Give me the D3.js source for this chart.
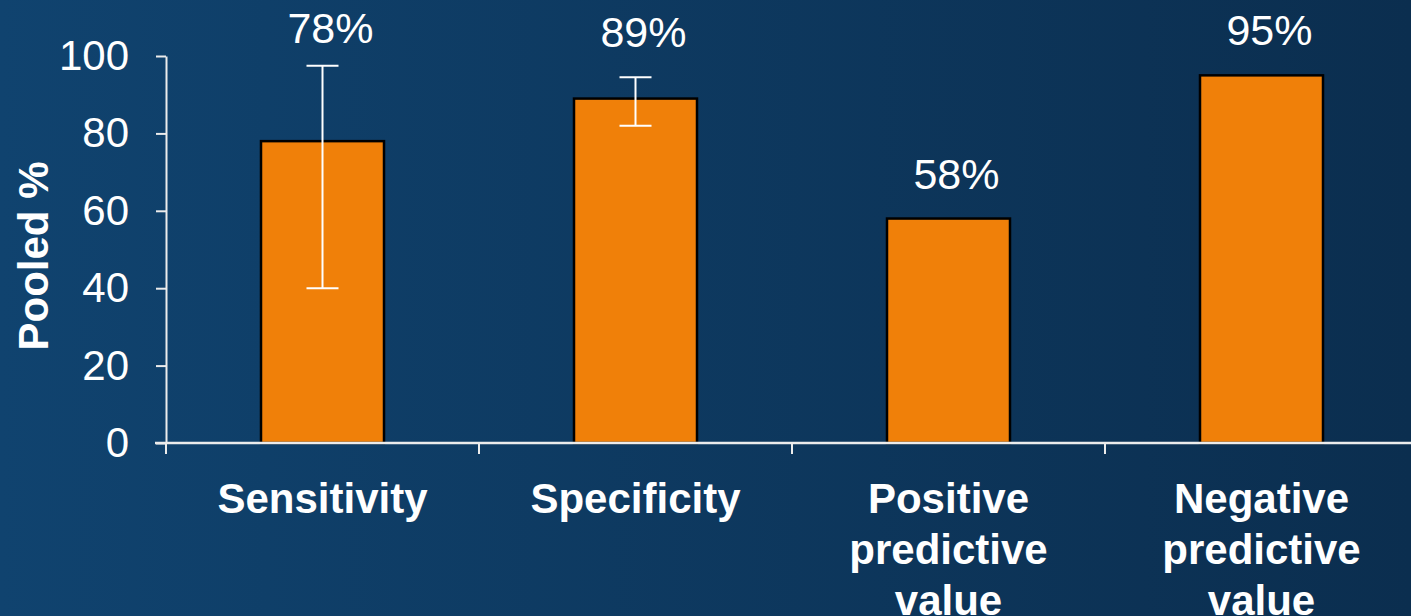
<!DOCTYPE html>
<html>
<head>
<meta charset="utf-8">
<script src="https://cdn.jsdelivr.net/npm/d3@7"></script>
<style>
  html, body { margin: 0; padding: 0; overflow: hidden; }
  svg { display: block; font-family: "Liberation Sans", Arial, sans-serif; }
</style>
</head>
<body>
<svg id="chart" width="1411" height="616"></svg>
<script>
// chart data
const categories = ["Sensitivity", "Specificity", "Positive predictive value", "Negative predictive value"];
const pooled = [78, 89, 58, 95];
const ciLow = [40, 82, null, null];
const ciHigh = [97.5, 94.5, null, null];
const yTicks = [0, 20, 40, 60, 80, 100];

const width = 1411, height = 616;
const svg = d3.select("#chart");

// background gradient
const grad = svg.append("defs").append("linearGradient")
    .attr("id", "bg").attr("x1", "0%").attr("x2", "100%").attr("y1", "0%").attr("y2", "0%");
grad.append("stop").attr("offset", "0%").attr("stop-color", "#10436f");
grad.append("stop").attr("offset", "100%").attr("stop-color", "#0b2e4f");
svg.append("rect").attr("width", width).attr("height", height).attr("fill", "url(#bg)");

const x0 = 166, plotW = 313 * 4;
const x = d3.scaleBand().domain(categories).range([x0, x0 + plotW]).paddingInner(0).paddingOuter(0);
const y = d3.scaleLinear().domain([0, 100]).range([443, 56]);
const barW = 123;

const axisColor = "#ececec";

// y axis
const yAxis = svg.append("g")
    .attr("transform", `translate(${x0},0)`)
    .call(d3.axisLeft(y).tickValues(yTicks).tickSize(10).tickPadding(27).tickSizeOuter(0));
yAxis.select(".domain").attr("stroke", axisColor).attr("stroke-width", 2);
yAxis.selectAll(".tick line").attr("stroke", axisColor).attr("stroke-width", 2);
yAxis.selectAll(".tick text")
    .attr("fill", "#ffffff").attr("font-size", 42)
    .attr("font-family", "Liberation Sans, Arial, sans-serif");

// bars
svg.selectAll("rect.bar")
    .data(categories)
    .enter().append("rect")
    .attr("class", "bar")
    .attr("x", (d) => x(d) + x.bandwidth() / 2 - barW / 2)
    .attr("y", (d, i) => y(pooled[i]))
    .attr("width", barW)
    .attr("height", (d, i) => y(0) - y(pooled[i]))
    .attr("fill", "#f08009")
    .attr("stroke", "#000")
    .attr("stroke-width", 2.5);

// x axis (drawn after bars so line sits on top)
const xAxisLine = svg.append("g");
xAxisLine.append("line")
    .attr("x1", x0 - 11).attr("x2", width)
    .attr("y1", y(0)).attr("y2", y(0))
    .attr("stroke", axisColor).attr("stroke-width", 2.5);
xAxisLine.selectAll("line.xtick")
    .data(categories)
    .enter().append("line")
    .attr("class", "xtick")
    .attr("x1", (d) => x(d)).attr("x2", (d) => x(d))
    .attr("y1", y(0)).attr("y2", y(0) + 11)
    .attr("stroke", axisColor).attr("stroke-width", 2);

// error bars
const capW = 32;
categories.forEach((c, i) => {
  if (ciLow[i] == null) return;
  const cx = x(c) + x.bandwidth() / 2;
  const g = svg.append("g").attr("stroke", "#ffffff").attr("stroke-width", 2);
  g.append("line").attr("x1", cx).attr("x2", cx).attr("y1", y(ciLow[i])).attr("y2", y(ciHigh[i]));
  g.append("line").attr("x1", cx - capW / 2).attr("x2", cx + capW / 2).attr("y1", y(ciLow[i])).attr("y2", y(ciLow[i]));
  g.append("line").attr("x1", cx - capW / 2).attr("x2", cx + capW / 2).attr("y1", y(ciHigh[i])).attr("y2", y(ciHigh[i]));
});

// value labels (sit slightly right of the bar centre, as in the original)
svg.selectAll("text.val")
    .data(categories)
    .enter().append("text")
    .attr("class", "val")
    .attr("x", (d) => x(d) + x.bandwidth() / 2 + 8)
    .attr("y", (d, i) => Math.max(43, y(Math.max(pooled[i], ciHigh[i] || 0)) - 30))
    .attr("text-anchor", "middle")
    .attr("fill", "#ffffff")
    .attr("font-size", 43)
    .text((d, i) => pooled[i] + "%");

// category labels
const catWords = {
  "Sensitivity": ["Sensitivity"],
  "Specificity": ["Specificity"],
  "Positive predictive value": ["Positive", "predictive", "value"],
  "Negative predictive value": ["Negative", "predictive", "value"]
};
categories.forEach((c) => {
  const t = svg.append("text")
      .attr("x", x(c) + x.bandwidth() / 2)
      .attr("y", 513)
      .attr("text-anchor", "middle")
      .attr("fill", "#ffffff")
      .attr("font-weight", "bold")
      .attr("font-size", 42);
  catWords[c].forEach((w, k) => {
    t.append("tspan").attr("x", x(c) + x.bandwidth() / 2).attr("dy", k === 0 ? 0 : 51).text(w);
  });
});

// y axis title
svg.append("text")
    .attr("transform", "translate(48,256) rotate(-90)")
    .attr("text-anchor", "middle")
    .attr("fill", "#ffffff")
    .attr("font-weight", "bold")
    .attr("font-size", 42)
    .text("Pooled %");
</script>
</body>
</html>
